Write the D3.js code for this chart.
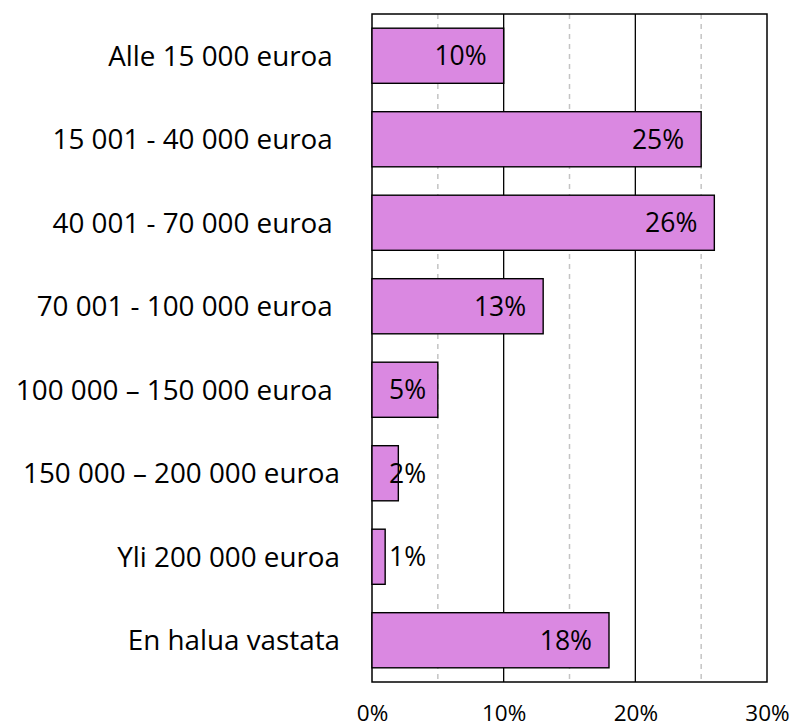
<!DOCTYPE html>
<html>
<head>
<meta charset="utf-8">
<script src="https://cdn.jsdelivr.net/npm/d3@7"></script>
<style>
  body { margin: 0; background: #fff; }
  text { font-family: "Open Sans", sans-serif; fill: #000; }
</style>
</head>
<body>
<svg id="chart"></svg>
<script>
// categories (trailing spaces kept as in the original labels)
var categories = [
    "Alle 15 000 euroa ",
    "15 001 - 40 000 euroa ",
    "40 001 - 70 000 euroa ",
    "70 001 - 100 000 euroa ",
    "100 000 \u2013 150 000 euroa ",
    "150 000 \u2013 200 000 euroa",
    "Yli 200 000 euroa",
    "En halua vastata"
]
var values = [0.10, 0.25, 0.26, 0.13, 0.05, 0.02, 0.01, 0.18]
var majorTicks = [0, 0.1, 0.2, 0.3]
var minorTicks = [0.05, 0.15, 0.25]

var screen = {width: 793, height: 727}
var plot = {left: 372, right: 767, top: 14, bottom: 682}

var svg = d3.select("#chart")
    .attr("width", screen.width)
    .attr("height", screen.height)

var xScale = d3.scaleLinear()
    .domain([0, 0.3])
    .range([plot.left, plot.right])

var yScale = d3.scaleBand()
    .domain(categories)
    .range([plot.top, plot.bottom])
    .paddingInner(0.34)
    .paddingOuter(0.17)

// dashed minor gridlines
svg.append("g")
    .selectAll("line")
    .data(minorTicks)
    .enter()
    .append("line")
    .attr("x1", d => xScale(d))
    .attr("x2", d => xScale(d))
    .attr("y1", plot.top)
    .attr("y2", plot.bottom)
    .attr("stroke", "#c4c4c4")
    .attr("stroke-width", 1.5)
    .attr("stroke-dasharray", "5,5")

// solid major gridlines
svg.append("g")
    .selectAll("line")
    .data(majorTicks.slice(1, -1))
    .enter()
    .append("line")
    .attr("x1", d => xScale(d))
    .attr("x2", d => xScale(d))
    .attr("y1", plot.top)
    .attr("y2", plot.bottom)
    .attr("stroke", "#000")
    .attr("stroke-width", 1.3)

// frame
svg.append("rect")
    .attr("x", plot.left)
    .attr("y", plot.top)
    .attr("width", plot.right - plot.left)
    .attr("height", plot.bottom - plot.top)
    .attr("fill", "none")
    .attr("stroke", "#000")
    .attr("stroke-width", 1.5)

// bars
var rows = categories.map((c, i) => ({cat: c, val: values[i]}))

svg.append("g")
    .selectAll("rect")
    .data(rows)
    .enter()
    .append("rect")
    .attr("x", xScale(0))
    .attr("y", d => yScale(d.cat))
    .attr("width", d => xScale(d.val) - xScale(0))
    .attr("height", yScale.bandwidth())
    .attr("fill", "#da88e1")
    .attr("stroke", "#000")
    .attr("stroke-width", 1.4)

// value labels, inside end
var labels = svg.append("g")
    .selectAll("text")
    .data(rows)
    .enter()
    .append("text")
    .attr("y", d => yScale(d.cat) + yScale.bandwidth() / 2)
    .attr("dy", "0.36em")
    .attr("text-anchor", "end")
    .style("font-size", "26.5px")
    .text(d => Math.round(d.val * 100) + "%")

labels.attr("x", function(d) {
    var w = this.getComputedTextLength()
    return Math.max(xScale(d.val) - 17, xScale(0) + 17 + w)
})

// category axis
var yAxis = d3.axisLeft(yScale).tickSize(0).tickPadding(0)
var gy = svg.append("g")
    .attr("transform", "translate(340,0)")
    .call(yAxis)
gy.select(".domain").remove()
gy.selectAll("text")
    .style("font-size", "27.8px")
    .style("font-family", "'Open Sans', sans-serif")
    .style("white-space", "pre")
    .attr("fill", "#000")
    .attr("dy", "0.36em")

// value axis
var xAxis = d3.axisBottom(xScale)
    .tickValues(majorTicks)
    .tickFormat(d3.format(".0%"))
    .tickSize(0)
    .tickPadding(0)
var gx = svg.append("g")
    .attr("transform", "translate(0,721)")
    .call(xAxis)
gx.select(".domain").remove()
gx.selectAll("text")
    .style("font-size", "22.5px")
    .style("font-family", "'Open Sans', sans-serif")
    .attr("fill", "#000")
    .attr("dy", 0)
</script>
</body>
</html>
